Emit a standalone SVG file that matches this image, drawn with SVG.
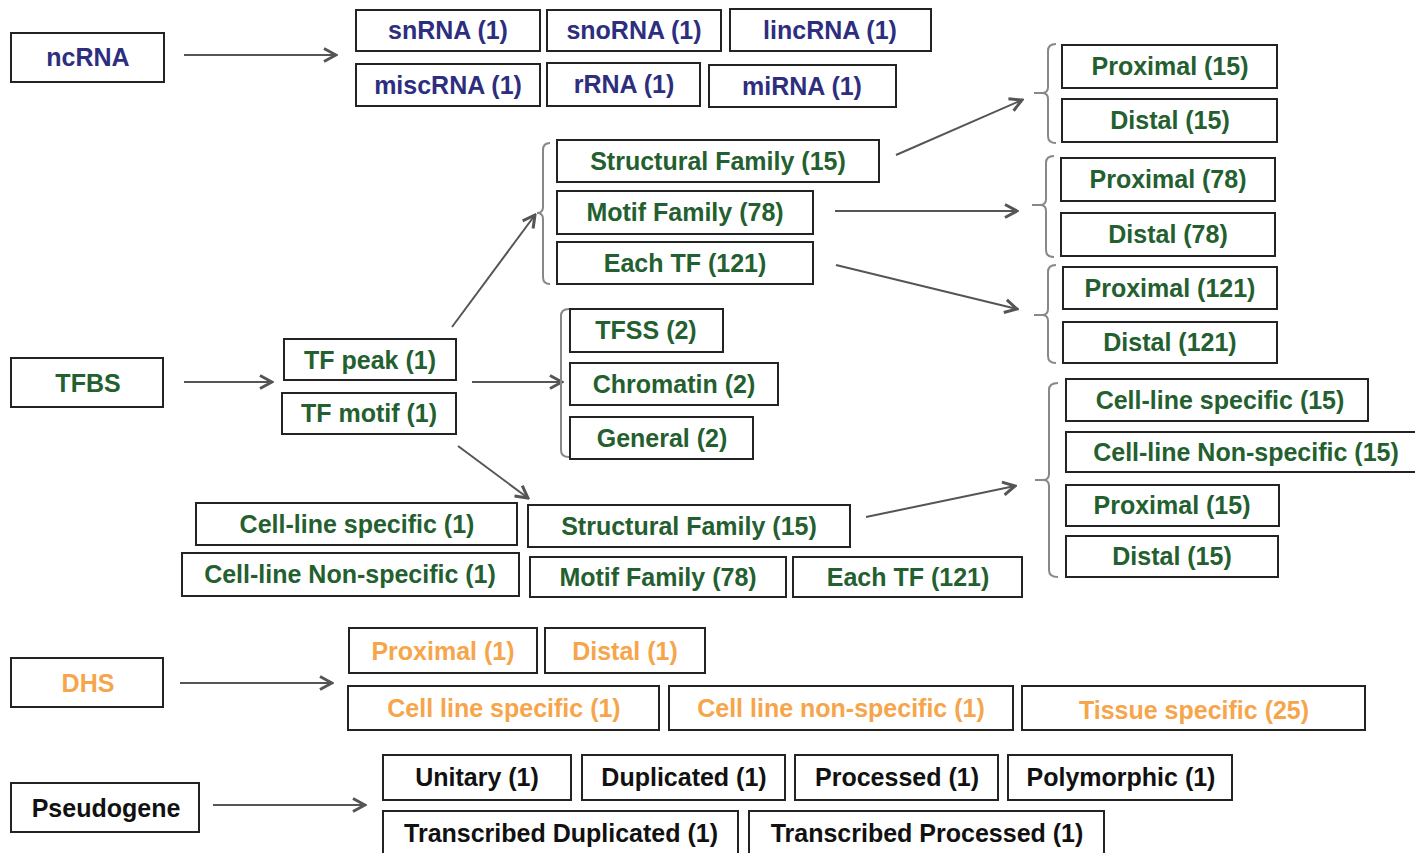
<svg xmlns="http://www.w3.org/2000/svg" width="1415" height="853" viewBox="0 0 1415 853">
<style>
.box{fill:#fff;stroke:#232323;stroke-width:2}
.t{font-family:"Liberation Sans",Arial,sans-serif;font-weight:bold;font-size:25px;text-anchor:middle}
.b{fill:#2d2e7e}
.g{fill:#24602f}
.o{fill:#f6a54b}
.k{fill:#111}
.arr{fill:none;stroke:#555;stroke-width:2;marker-end:url(#ah)}
.br{fill:none;stroke:#888;stroke-width:2}
</style>
<defs>
<marker id="ah" viewBox="0 0 16 16" refX="14" refY="8" markerWidth="16" markerHeight="16" markerUnits="userSpaceOnUse" orient="auto">
<path d="M2,1.5 L14,8 L2,14.5" fill="none" stroke="#555" stroke-width="3" stroke-linejoin="miter"/>
</marker>
</defs>
<rect width="1415" height="853" fill="#fff"/>

<g id="connectors">
<path class="arr" d="M184,55 L336,55"/>
<path class="arr" d="M184,382 L272,382"/>
<path class="arr" d="M452,327 L535,215"/>
<path class="arr" d="M472,382 L562,382"/>
<path class="arr" d="M458,446 L528,498"/>
<path class="arr" d="M896,155 L1022,100"/>
<path class="arr" d="M835,211 L1017,211"/>
<path class="arr" d="M836,265 L1017,309"/>
<path class="arr" d="M866,517 L1015,486"/>
<path class="arr" d="M180,683 L332,683"/>
<path class="arr" d="M213,805 L365,805"/>
<!-- brackets -->
<path class="br" d="M550,143 Q543,143 543,150 L543,207 Q543,213 537,213 Q543,213 543,219 L543,277 Q543,284 550,284"/>
<path class="br" d="M569,309 Q561,309 561,316 L561,450 Q561,457 569,457"/>
<path class="br" d="M1056,44 Q1048,44 1048,51 L1048,87 Q1048,93 1042,93 L1034,93 M1042,93 Q1048,93 1048,99 L1048,136 Q1048,143 1056,143"/>
<path class="br" d="M1054,156 Q1046,156 1046,163 L1046,199 Q1046,205 1040,205 L1032,205 M1040,205 Q1046,205 1046,211 L1046,250 Q1046,257 1054,257"/>
<path class="br" d="M1056,265 Q1048,265 1048,272 L1048,309 Q1048,315 1042,315 L1034,315 M1042,315 Q1048,315 1048,321 L1048,356 Q1048,363 1056,363"/>
<path class="br" d="M1058,383 Q1049,383 1049,390 L1049,474 Q1049,480 1043,480 L1035,480 M1043,480 Q1049,480 1049,486 L1049,570 Q1049,577 1058,577"/>
</g>

<g id="ncRNA"><rect class="box" x="11" y="33" width="153" height="49"/><text class="t b" x="88" y="66">ncRNA</text></g>
<g id="snRNA"><rect class="box" x="356" y="10" width="184" height="41"/><text class="t b" x="448" y="39">snRNA (1)</text></g>
<g id="snoRNA"><rect class="box" x="547" y="10" width="174" height="41"/><text class="t b" x="634" y="39">snoRNA (1)</text></g>
<g id="lincRNA"><rect class="box" x="730" y="9" width="201" height="42"/><text class="t b" x="830" y="39">lincRNA (1)</text></g>
<g id="miscRNA"><rect class="box" x="356" y="64" width="184" height="42"/><text class="t b" x="448" y="94">miscRNA (1)</text></g>
<g id="rRNA"><rect class="box" x="547" y="63" width="153" height="43"/><text class="t b" x="624" y="93">rRNA (1)</text></g>
<g id="miRNA"><rect class="box" x="709" y="65" width="187" height="42"/><text class="t b" x="802" y="95">miRNA (1)</text></g>

<g id="TFBS"><rect class="box" x="11" y="358" width="152" height="49"/><text class="t g" x="88" y="392">TFBS</text></g>
<g id="tfpeak"><rect class="box" x="284" y="339" width="172" height="41"/><text class="t g" x="370" y="369">TF peak (1)</text></g>
<g id="tfmotif"><rect class="box" x="282" y="393" width="174" height="41"/><text class="t g" x="369" y="422">TF motif (1)</text></g>

<g id="structfam1"><rect class="box" x="557" y="140" width="322" height="42"/><text class="t g" x="718" y="170">Structural Family (15)</text></g>
<g id="motiffam1"><rect class="box" x="557" y="191" width="256" height="43"/><text class="t g" x="685" y="221">Motif Family (78)</text></g>
<g id="eachtf1"><rect class="box" x="557" y="242" width="256" height="42"/><text class="t g" x="685" y="272">Each TF (121)</text></g>

<g id="tfss"><rect class="box" x="570" y="309" width="153" height="43"/><text class="t g" x="646" y="339">TFSS (2)</text></g>
<g id="chromatin"><rect class="box" x="570" y="363" width="208" height="42"/><text class="t g" x="674" y="393">Chromatin (2)</text></g>
<g id="general"><rect class="box" x="570" y="417" width="183" height="42"/><text class="t g" x="662" y="447">General (2)</text></g>

<g id="prox15"><rect class="box" x="1062" y="45" width="215" height="43"/><text class="t g" x="1170" y="75">Proximal (15)</text></g>
<g id="dist15"><rect class="box" x="1062" y="99" width="215" height="43"/><text class="t g" x="1170" y="129">Distal (15)</text></g>
<g id="prox78"><rect class="box" x="1061" y="158" width="214" height="43"/><text class="t g" x="1168" y="188">Proximal (78)</text></g>
<g id="dist78"><rect class="box" x="1061" y="213" width="214" height="43"/><text class="t g" x="1168" y="243">Distal (78)</text></g>
<g id="prox121"><rect class="box" x="1063" y="267" width="214" height="42"/><text class="t g" x="1170" y="297">Proximal (121)</text></g>
<g id="dist121"><rect class="box" x="1063" y="322" width="214" height="41"/><text class="t g" x="1170" y="351">Distal (121)</text></g>

<g id="cellspec15"><rect class="box" x="1066" y="379" width="302" height="42"/><text class="t g" x="1220" y="409">Cell-line specific (15)</text></g>
<g id="cellnonspec15"><rect class="box" x="1066" y="432" width="360" height="40"/><text class="t g" x="1246" y="461">Cell-line Non-specific (15)</text></g>
<g id="proxm15"><rect class="box" x="1066" y="485" width="213" height="41"/><text class="t g" x="1172" y="514">Proximal (15)</text></g>
<g id="distm15"><rect class="box" x="1066" y="536" width="212" height="41"/><text class="t g" x="1172" y="565">Distal (15)</text></g>

<g id="cellspec1"><rect class="box" x="196" y="503" width="321" height="42"/><text class="t g" x="357" y="533">Cell-line specific (1)</text></g>
<g id="cellnonspec1"><rect class="box" x="182" y="553" width="337" height="43"/><text class="t g" x="350" y="583">Cell-line Non-specific (1)</text></g>
<g id="structfam2"><rect class="box" x="528" y="505" width="322" height="42"/><text class="t g" x="689" y="535">Structural Family (15)</text></g>
<g id="motiffam2"><rect class="box" x="530" y="557" width="256" height="40"/><text class="t g" x="658" y="586">Motif Family (78)</text></g>
<g id="eachtf2"><rect class="box" x="793" y="557" width="229" height="40"/><text class="t g" x="908" y="586">Each TF (121)</text></g>

<g id="DHS"><rect class="box" x="11" y="658" width="152" height="49"/><text class="t o" x="88" y="692">DHS</text></g>
<g id="dprox"><rect class="box" x="349" y="628" width="188" height="45"/><text class="t o" x="443" y="660">Proximal (1)</text></g>
<g id="ddist"><rect class="box" x="545" y="628" width="160" height="45"/><text class="t o" x="625" y="660">Distal (1)</text></g>
<g id="dcellspec"><rect class="box" x="348" y="686" width="311" height="44"/><text class="t o" x="504" y="717">Cell line specific (1)</text></g>
<g id="dcellnonspec"><rect class="box" x="669" y="686" width="344" height="44"/><text class="t o" x="841" y="717">Cell line non-specific (1)</text></g>
<g id="dtissue"><rect class="box" x="1022" y="686" width="343" height="44"/><text class="t o" x="1194" y="719">Tissue specific (25)</text></g>

<g id="Pseudogene"><rect class="box" x="11" y="783" width="188" height="49"/><text class="t k" x="106" y="817">Pseudogene</text></g>
<g id="unitary"><rect class="box" x="383" y="755" width="188" height="45"/><text class="t k" x="477" y="786">Unitary (1)</text></g>
<g id="duplicated"><rect class="box" x="582" y="755" width="203" height="45"/><text class="t k" x="684" y="786">Duplicated (1)</text></g>
<g id="processed"><rect class="box" x="795" y="755" width="203" height="45"/><text class="t k" x="897" y="786">Processed (1)</text></g>
<g id="polymorphic"><rect class="box" x="1008" y="755" width="224" height="45"/><text class="t k" x="1121" y="786">Polymorphic (1)</text></g>
<g id="transdup"><rect class="box" x="383" y="811" width="355" height="50"/><text class="t k" x="561" y="842">Transcribed Duplicated (1)</text></g>
<g id="transproc"><rect class="box" x="749" y="811" width="355" height="50"/><text class="t k" x="927" y="842">Transcribed Processed (1)</text></g>
</svg>
